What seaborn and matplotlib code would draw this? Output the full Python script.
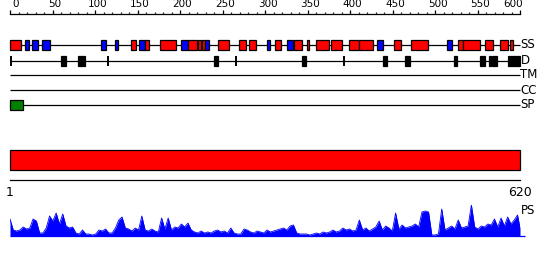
import numpy as np
import pandas as pd
import matplotlib
matplotlib.use("Agg")
import matplotlib.pyplot as plt
import matplotlib.transforms as mtransforms
import seaborn as sns

sns.set_theme(style="white")
plt.rcParams['font.family'] = ['DejaVu Sans']

# ---------------- data ----------------
seq_len = 620
ruler_ticks = [0, 50, 100, 150, 200, 250, 300, 350, 400, 450, 500, 550, 600]
track_labels = ["SS", "D", "TM", "CC", "SP"]

# secondary structure: H = helix (red), E = strand (blue)
ss_start = [1, 19, 28, 40, 111, 128, 148, 158, 165, 183, 209, 217, 229, 234, 238,
            254, 279, 291, 313, 323, 337, 346, 361, 373, 391, 412, 424, 446, 467,
            488, 532, 545, 551, 577, 596, 608]
ss_end = [14, 24, 35, 49, 117, 132, 154, 165, 170, 203, 217, 228, 233, 238, 242,
          267, 288, 300, 316, 330, 344, 356, 364, 388, 404, 424, 442, 454, 476,
          508, 538, 551, 572, 587, 605, 611]
ss_type = ["H", "E", "E", "E", "E", "E", "H", "E", "H", "H", "E", "H", "H", "H", "E",
           "H", "H", "H", "E", "H", "E", "H", "H", "H", "H", "H", "H", "E", "H",
           "H", "E", "H", "H", "H", "H", "H"]

# disorder segments and boundaries
dis_start = [63, 84, 248, 356, 454, 480, 540, 571, 582, 586, 606]
dis_end = [69, 92, 254, 360, 459, 487, 544, 578, 585, 592, 620]
dis_marks = [2, 120, 275, 406]

# signal peptide
sp_start = [1]
sp_end = [17]

# whole-chain region bar
region_start = [1]
region_end = [620]

# PS profile
ps_pos = list(range(1, 618, 4)) + [620]
ps_val = [17, 6, 5, 6, 9, 7, 8, 17, 15, 3, 3, 8, 20, 15, 23, 12, 22, 10, 8, 9,
          3, 2, 6, 2, 2, 1, 2, 6, 5, 7, 3, 3, 8, 16, 19, 8, 7, 5, 8, 6,
          20, 6, 5, 7, 5, 4, 18, 7, 18, 6, 9, 8, 12, 9, 13, 6, 4, 3, 5, 3,
          4, 3, 5, 6, 4, 5, 3, 8, 3, 2, 2, 7, 6, 4, 3, 5, 4, 3, 6, 4,
          5, 6, 7, 8, 6, 10, 11, 3, 2, 2, 2, 1, 2, 3, 2, 4, 3, 4, 6, 4,
          5, 8, 6, 7, 5, 6, 16, 6, 8, 5, 7, 9, 15, 6, 10, 8, 5, 23, 7, 11,
          8, 9, 10, 12, 9, 24, 25, 24, 1, 1, 2, 27, 6, 8, 10, 7, 16, 8, 9, 10,
          31, 9, 7, 10, 9, 12, 11, 17, 9, 18, 10, 19, 12, 16, 21, 8]

# ---------------- layout (pixels) ----------------
W, H = 550, 260
x0_px, x1_px = 10, 520
def fx(px):
    return px / W
def fy(py):
    return 1 - py / H

fig = plt.figure(figsize=(W / 100, H / 100), dpi=100)

res_per_px = (seq_len - 1) / (x1_px - x0_px)
ax = fig.add_axes([0, 0, 1, 1])
ax.set_xlim(1 - x0_px * res_per_px, 1 + (W - x0_px) * res_per_px)
ax.set_ylim(H, 0)
ax.axis("off")

track_y = [45, 60.5, 75, 90, 105]
box_h = 10
lw = 0.9

# baselines
ax.hlines(track_y, 1, seq_len, color="black", lw=lw, zorder=1)
for lab, y in zip(track_labels, track_y):
    ax.text(1 + (520.5 - x0_px) * res_per_px, y, lab, ha="left", va="center",
            fontsize=8.5, color="black")

ss_df = pd.DataFrame({"start": ss_start, "end": ss_end, "type": ss_type})
ss_df["len"] = ss_df["end"] - ss_df["start"]
ss_colors = {"H": "#ff0000", "E": "#0000ff"}
ax.barh([track_y[0]] * len(ss_df), ss_df["len"], left=ss_df["start"], height=box_h,
        color=[ss_colors[t] for t in ss_df["type"]], edgecolor="black", linewidth=lw,
        zorder=2)

dis_len = [e - s for s, e in zip(dis_start, dis_end)]
ax.barh([track_y[1]] * len(dis_start), dis_len, left=dis_start, height=box_h,
        color="black", edgecolor="black", linewidth=lw, zorder=2)
ax.vlines(dis_marks, track_y[1] - box_h / 2, track_y[1] + box_h / 2,
          color="black", lw=1.4, zorder=2)

ax.barh([track_y[4]], [e - s for s, e in zip(sp_start, sp_end)], left=sp_start,
        height=box_h, color="#008000", edgecolor="black", linewidth=lw, zorder=2)

# region bar
ax.barh([160], [e - s for s, e in zip(region_start, region_end)], left=region_start,
        height=20, color="#ff0000", edgecolor="black", linewidth=lw, zorder=2)

# ---------------- top ruler ----------------
axt = fig.add_axes([fx(x0_px), fy(14), fx(x1_px) - fx(x0_px), 0.0001])
axt.set_xlim(0, 600)
axt.set_yticks([])
for s in ["left", "right", "bottom"]:
    axt.spines[s].set_visible(False)
axt.spines["top"].set_color("black")
axt.spines["top"].set_linewidth(lw)
axt.xaxis.tick_top()
axt.set_xticks(ruler_ticks)
axt.set_xticklabels([str(t) for t in ruler_ticks], fontsize=7.5)
axt.set_xticks(np.arange(0, 601, 10), minor=True)
axt.tick_params(axis="x", which="major", direction="out", length=3, width=lw,
                pad=0.5, colors="black")
axt.tick_params(axis="x", which="minor", direction="out", length=1.8, width=lw,
                top=True, bottom=False)
axt.patch.set_alpha(0)
shift = mtransforms.ScaledTranslation(2.5 / 100, 0, fig.dpi_scale_trans)
labs = axt.get_xticklabels()
for lab in labs:
    lab.set_transform(lab.get_transform() + shift)
labs[0].set_horizontalalignment("left")
labs[-1].set_horizontalalignment("right")

# ---------------- bottom ruler ----------------
axb = fig.add_axes([fx(x0_px), fy(180), fx(x1_px) - fx(x0_px), 0.0001])
axb.set_xlim(1, seq_len)
axb.set_yticks([])
for s in ["left", "right", "top"]:
    axb.spines[s].set_visible(False)
axb.spines["bottom"].set_color("black")
axb.spines["bottom"].set_linewidth(lw)
axb.set_xticks([1, seq_len])
axb.set_xticklabels(["1", str(seq_len)], fontsize=9)
axb.tick_params(axis="x", direction="out", length=3.5, width=lw, pad=1, colors="black")
axb.patch.set_alpha(0)

# ---------------- PS profile ----------------
axp = fig.add_axes([fx(x0_px), fy(236), fx(x1_px) - fx(x0_px), fy(205) - fy(236)])
axp.set_xlim(1, seq_len)
axp.set_ylim(0, 31)
axp.axis("off")
ps_df = pd.DataFrame({"pos": ps_pos, "val": ps_val})
axp.fill_between(ps_df["pos"], 0, ps_df["val"], color="#0000ff", lw=0)
sns.lineplot(data=ps_df, x="pos", y="val", ax=axp, color="#0000ff", lw=0.6)
ax.hlines([236], 1, 1 + (525 - x0_px) * res_per_px, color="#0000ff", lw=lw)
ax.text(1 + (520.5 - x0_px) * res_per_px, 211, "PS", ha="left", va="center",
        fontsize=8.5, color="black")

fig.savefig("out.png", dpi=100)
